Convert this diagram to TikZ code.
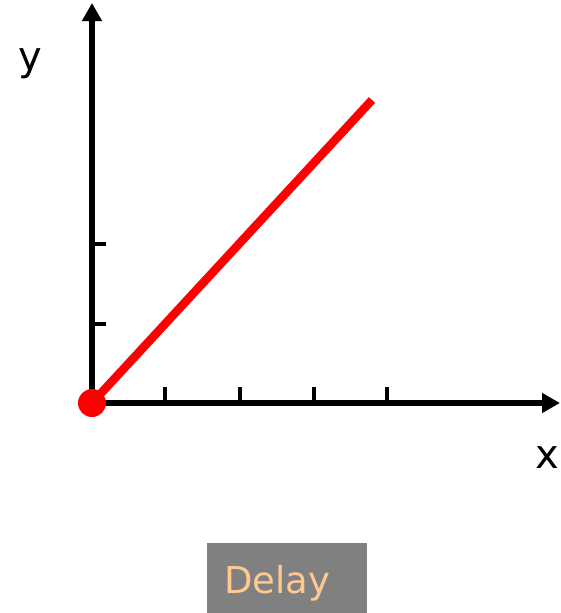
\documentclass[tikz,border=0pt]{standalone}
\usepackage{fontspec}
\setmainfont{DejaVu Sans}
\usetikzlibrary{arrows.meta}
\definecolor{peach}{HTML}{FFC890}
\definecolor{btngray}{HTML}{808080}
\tikzset{
  axis/.style={line width=6pt, -{Triangle[length=18pt,width=19pt]}},
  tickmark/.style={line width=4pt},
  redline/.style={red, line width=8.5pt},
  lbl/.style={font=\fontsize{40}{40}\selectfont, inner sep=0pt},
}
\begin{document}
\begin{tikzpicture}[x=1pt,y=-1pt]
\useasboundingbox (0,0) rectangle (560,613);
\coordinate (o) at (92,403);
\coordinate (ytop) at (92,3);
\coordinate (xend) at (560,403);
\coordinate (lend) at (372,100);
\draw[axis] (o) -- (ytop);
\draw[axis] (o) -- (xend);
\foreach \tx in {165,240,314,387} \draw[tickmark] (\tx,403) -- (\tx,387);
\foreach \ty in {244,324} \draw[tickmark] (92,\ty) -- (106,\ty);
\draw[redline] (o) -- (lend);
\fill[red] (o) circle (14);
\node[lbl, anchor=base] (ylab) at (30,70) {y};
\node[lbl, anchor=base] (xlab) at (547,468) {x};
\node[fill=btngray, minimum width=160pt, minimum height=70pt, inner sep=0pt, anchor=north west] (btn) at (207,543) {};
\node[font=\fontsize{37}{37}\selectfont, text=peach, anchor=base west, inner sep=0pt] (btntext) at (224,593) {Delay};
\end{tikzpicture}
\end{document}
